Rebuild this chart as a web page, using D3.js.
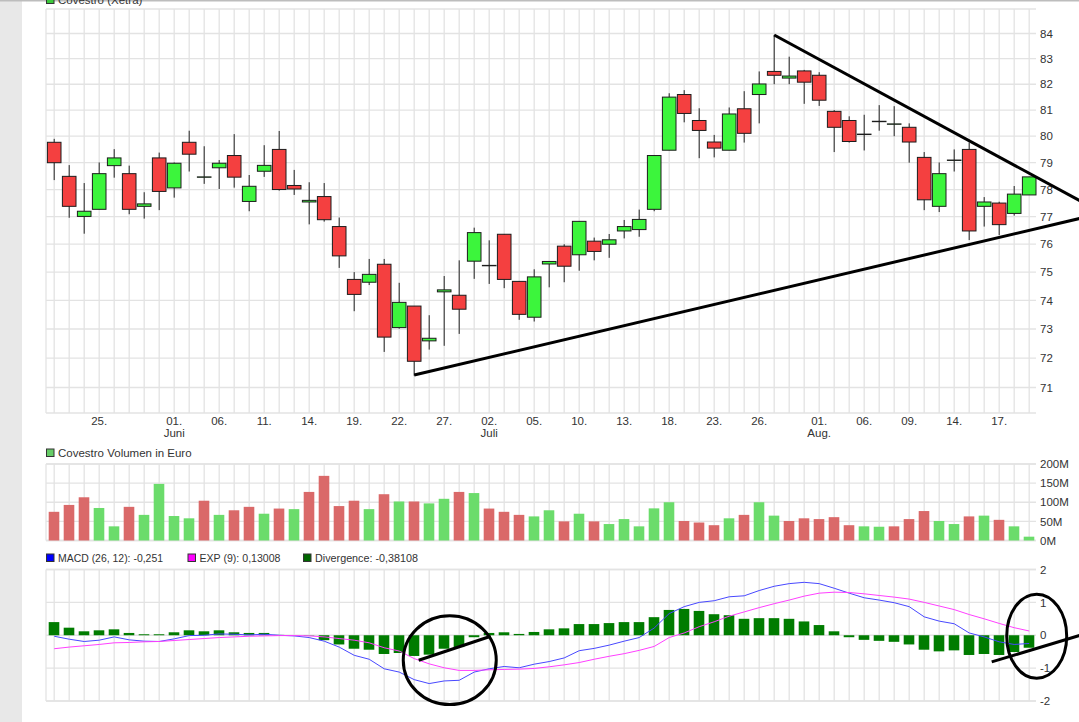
<!DOCTYPE html>
<html>
<head>
<meta charset="utf-8">
<script src="https://d3js.org/d3.v7.min.js"></script>
<style>
	html, body { margin: 0; padding: 0; background: #fff; overflow: hidden; }
	text { font-family: "Liberation Sans", Arial, sans-serif; font-size: 11.5px; fill: #333; }
</style>
</head>
<body>
<svg id="chart" width="1079" height="722"></svg>
<script>
// Data
//---------
var opens = [79.77,78.49,77.01,77.27,78.89,78.59,77.38,79.18,78.06,79.77,78.47,78.81,79.27,77.56,78.68,79.5,78.15,77.54,77.74,76.64,74.74,74.64,75.28,73.05,73.8,72.59,74.3,74.18,75.39,75.24,76.36,74.67,73.41,75.29,75.93,75.62,76.11,76.0,76.48,76.53,77.27,79.47,81.6,80.6,79.78,79.47,81.05,81.6,82.5,82.24,82.52,82.35,80.95,80.6,80.08,80.57,80.47,80.34,79.2,77.38,79.1,79.5,77.38,77.5,77.12,77.8];
var closes = [79.0,77.38,77.2,78.59,79.18,77.27,77.47,77.93,78.98,79.32,78.47,78.98,78.46,78.12,78.9,78.0,78.02,77.6,76.89,75.58,74.21,74.92,72.72,73.93,71.89,72.68,74.37,73.69,76.42,75.24,74.74,73.51,74.83,75.38,75.21,76.83,75.74,76.16,76.64,76.9,79.27,81.5,80.87,80.22,79.55,80.85,80.11,82.01,82.35,82.32,82.08,81.38,80.34,79.8,80.08,80.57,80.47,79.78,77.62,78.59,79.1,76.48,77.54,76.71,77.83,78.47];
var highs = [79.9,78.91,78.24,79.01,79.51,78.89,77.9,79.38,79.01,80.21,79.62,79.1,80.08,78.54,79.66,80.2,78.73,78.27,78.24,76.97,75.0,75.47,75.47,74.62,73.8,73.48,74.86,75.42,76.6,76.14,76.36,74.67,75.1,75.38,76.0,76.83,76.24,76.37,76.88,77.26,79.27,81.65,81.77,81.07,80.05,81.1,81.73,82.5,83.94,83.08,82.56,82.47,81.0,80.76,80.82,81.19,81.15,80.49,79.4,79.01,79.5,79.76,77.72,77.55,78.13,78.47];
var lows = [78.35,76.96,76.38,77.27,78.44,77.09,76.93,77.24,77.7,78.67,78.21,78.02,78.07,77.2,78.47,77.96,77.8,76.72,76.82,75.15,73.62,74.54,72.21,73.01,71.4,72.29,72.42,72.83,74.76,74.58,74.43,73.32,73.26,74.46,74.64,75.05,75.42,75.51,76.21,76.27,77.2,79.47,80.53,79.17,79.2,79.47,79.76,80.49,82.0,82.0,81.24,81.16,79.4,79.76,79.46,80.21,80.0,79.0,77.24,77.17,78.67,76.15,76.64,76.33,77.04,77.8];

var volumes = [75,93,113,85,37,88,67,148,64,58,104,67,79,88,70,83.5,82,127,169,90,104,82,121,102,102,97,109,127,124,83.5,75,67,63,79,50,70,50,43,56,37,84,100,51,47,40,58,67,100,65,51,58,56,61,40,37,36,37,56,77,51,43,63,65,54,37,10];
var volumeUp = [0,0,0,1,1,0,1,1,1,1,0,1,0,0,1,0,1,0,0,0,0,1,0,1,0,1,1,0,1,0,0,0,1,1,0,1,0,1,1,1,1,1,0,0,0,1,0,1,1,0,0,0,0,0,1,1,0,0,0,1,1,0,1,0,1,1];

var macd = [-0.03,-0.12,-0.19,-0.15,-0.05,-0.14,-0.18,-0.19,-0.11,-0.01,0,0.04,0.03,0.01,0.03,0,-0.02,-0.07,-0.18,-0.36,-0.61,-0.73,-1.02,-1.12,-1.35,-1.47,-1.39,-1.37,-1.12,-1.02,-0.95,-0.99,-0.88,-0.8,-0.69,-0.47,-0.4,-0.3,-0.18,-0.07,0.22,0.66,0.87,1.0,1.05,1.17,1.2,1.36,1.49,1.57,1.61,1.57,1.43,1.28,1.14,1.07,0.99,0.87,0.56,0.43,0.35,0.07,-0.05,-0.2,-0.28,-0.25];
var exp9 = [-0.41,-0.36,-0.32,-0.28,-0.23,-0.22,-0.2,-0.19,-0.16,-0.13,-0.1,-0.07,-0.05,-0.03,-0.02,-0.01,-0.01,-0.02,-0.05,-0.1,-0.15,-0.23,-0.38,-0.48,-0.71,-0.87,-0.99,-1.07,-1.07,-1.05,-1.04,-1.03,-1.01,-0.96,-0.9,-0.83,-0.73,-0.64,-0.56,-0.46,-0.34,-0.07,0.07,0.26,0.41,0.58,0.71,0.84,0.96,1.07,1.19,1.28,1.31,1.3,1.26,1.21,1.16,1.1,1.0,0.89,0.78,0.63,0.5,0.36,0.23,0.13];
var divergence = [0.4,0.23,0.12,0.15,0.18,0.07,0.03,0.03,0.09,0.15,0.12,0.15,0.09,0.07,0.07,0.01,0,-0.01,-0.15,-0.28,-0.41,-0.44,-0.57,-0.54,-0.63,-0.59,-0.41,-0.36,-0.06,0.07,0.09,0.04,0.1,0.18,0.21,0.34,0.34,0.37,0.4,0.4,0.55,0.77,0.8,0.74,0.64,0.61,0.5,0.52,0.52,0.5,0.42,0.31,0.12,-0.06,-0.14,-0.17,-0.2,-0.28,-0.44,-0.49,-0.46,-0.6,-0.57,-0.6,-0.51,-0.38];

var priceTicks = [71,72,73,74,75,76,77,78,79,80,81,82,83,84];
var volumeTicks = [0,50,100,150,200];
var macdTicks = [-2,-1,0,1,2];
var dayIndex = [3,8,11,14,17,20,23,26,29,32,35,38,41,44,47,51,54,57,60,63];
var dayLabels = ["25.","01.","06.","11.","14.","19.","22.","27.","02.","05.","10.","13.","18.","23.","26.","01.","06.","09.","14.","17."];
var monthIndex = [8,29,51];
var monthLabels = ["Juni","Juli","Aug."];

// hand drawn marks, in [day index, price] or [day index, macd]
var priceTrendUp = [[24,71.42],[68.4,76.94]];
var priceTrendDown = [[48,83.94],[68.4,77.58]];
var macdTrendLeft = [[24.3,-0.76],[29.1,-0.03]];
var macdTrendRight = [[62.5,-0.81],[68.4,0.0]];
var macdCircles = [[26.37,-0.76,3.1,1.35],[65.5,-0.03,2.0,1.28]];

// Scales
//---------
var left = 46, right = 1036, gridColor = "#e3e3e3";
var days = d3.range(opens.length);

var x = d3.scaleLinear().domain([0,65]).range([54.2,1029.2]);
var yPrice = d3.scaleLog().domain([71,84]).range([387.5,33.5]);
var yVolume = d3.scaleLinear().domain([0,200]).range([540.5,464]);
var yMacd = d3.scaleLinear().domain([-2,2]).range([701,569.5]);

var svg = d3.select("#chart");

// Page
//---------
svg.append("rect").attr("width",22).attr("height",722).attr("fill","#e8e8e8");
svg.append("rect").attr("width",1079).attr("height",1.5).attr("fill","#bdbdbd");

// Panels: grid and right hand axis
//---------
function panel(y,ticks,top,bottom,format) {
	var g = svg.append("g");
	g.selectAll(".h").data(ticks.concat([top,bottom])).enter().append("line")
		.attr("x1",left).attr("x2",right)
		.attr("y1",function(d,i) { return i<ticks.length ? y(d) : d; })
		.attr("y2",function(d,i) { return i<ticks.length ? y(d) : d; })
		.attr("stroke",gridColor).attr("stroke-width",1.3);
	g.selectAll(".v").data(days).enter().append("line")
		.attr("x1",function(d) { return x(d); })
		.attr("x2",function(d) { return x(d); })
		.attr("y1",top).attr("y2",bottom)
		.attr("stroke",gridColor).attr("stroke-width",1.3);
	g.append("line").attr("x1",left).attr("x2",left).attr("y1",top).attr("y2",bottom)
		.attr("stroke",gridColor).attr("stroke-width",1.3);

	var axis = svg.append("g")
		.attr("transform","translate(1036,0)")
		.call(d3.axisRight(y).tickValues(ticks).tickSize(0).tickPadding(4).tickFormat(format));
	axis.select(".domain").remove();
	axis.selectAll("text").attr("fill","#333");
}

panel(yPrice,priceTicks,9,413,function(d) { return d; });
panel(yVolume,volumeTicks,464,540.5,function(d) { return d+"M"; });
panel(yMacd,macdTicks,569.5,701,function(d) { return d; });

// Candles
//---------
svg.selectAll(".wick").data(days).enter().append("line")
	.attr("x1",function(i) { return x(i); })
	.attr("x2",function(i) { return x(i); })
	.attr("y1",function(i) { return yPrice(highs[i]); })
	.attr("y2",function(i) { return yPrice(lows[i]); })
	.attr("stroke","#222").attr("stroke-width",1);

// doji days have no body height, keep a sliver so the stroke still shows
svg.selectAll(".body").data(days).enter().append("rect")
	.attr("x",function(i) { return x(i)-6.8; })
	.attr("width",13.6)
	.attr("y",function(i) { return yPrice(Math.max(opens[i],closes[i])); })
	.attr("height",function(i) { return Math.max(Math.abs(yPrice(opens[i])-yPrice(closes[i])),0.4); })
	.attr("fill",function(i) { return closes[i]>=opens[i] ? "#3cf53c" : "#f44040"; })
	.attr("stroke","#1c1c1c").attr("stroke-width",1);

// X labels under the price panel
//---------
svg.selectAll(".day").data(dayLabels).enter().append("text")
	.attr("x",function(d,i) { return x(dayIndex[i]); })
	.attr("y",425).attr("text-anchor","middle")
	.text(function(d) { return d; });
svg.selectAll(".month").data(monthLabels).enter().append("text")
	.attr("x",function(d,i) { return x(monthIndex[i]); })
	.attr("y",437).attr("text-anchor","middle")
	.text(function(d) { return d; });

// Volume
//---------
svg.selectAll(".vol").data(days).enter().append("rect")
	.attr("x",function(i) { return x(i)-5.5; })
	.attr("width",10.6)
	.attr("y",function(i) { return yVolume(volumes[i]); })
	.attr("height",function(i) { return yVolume(0)-yVolume(volumes[i]); })
	.attr("fill",function(i) { return volumeUp[i] ? "#6bdc6b" : "#da6969"; });

// MACD
//---------
svg.selectAll(".div").data(days).enter().append("rect")
	.attr("x",function(i) { return x(i)-5.5; })
	.attr("width",10.6)
	.attr("y",function(i) { return yMacd(Math.max(divergence[i],0)); })
	.attr("height",function(i) { return Math.abs(yMacd(divergence[i])-yMacd(0)); })
	.attr("fill","#007c00");

var macdLine = d3.line().x(function(d,i) { return x(i); }).y(function(d) { return yMacd(d); });
svg.append("path").attr("d",macdLine(macd)).attr("fill","none").attr("stroke","#4848ff").attr("stroke-width",1);
svg.append("path").attr("d",macdLine(exp9)).attr("fill","none").attr("stroke","#ff40ff").attr("stroke-width",1);

// Legends
//---------
function legend(px,py,color,label,fit) {
	svg.append("rect").attr("x",px+0.5).attr("y",py-8).attr("width",7.5).attr("height",7.5)
		.attr("fill",color).attr("stroke","#333").attr("stroke-width",1);
	var t = svg.append("text").attr("x",px+12).attr("y",py).text(label);
	//-- the picture squeezes these ones a bit
	if (fit) {
		t.attr("textLength",fit).attr("lengthAdjust","spacingAndGlyphs");
	}
}
legend(46,4,"#3cc83c","Covestro (Xetra)");
legend(46,457,"#66cc66","Covestro Volumen in Euro");
legend(46,562,"#0000ff","MACD (26, 12): -0,251",105);
legend(187.5,562,"#ff00ff","EXP (9): 0,13008",81);
legend(303,562,"#006600","Divergence: -0,38108",103);

// Hand drawn trend lines and circles
//---------
function trend(points,y) {
	svg.append("line")
		.attr("x1",x(points[0][0])).attr("y1",y(points[0][1]))
		.attr("x2",x(points[1][0])).attr("y2",y(points[1][1]))
		.attr("stroke","#000").attr("stroke-width",3);
}
trend(priceTrendUp,yPrice);
trend(priceTrendDown,yPrice);
trend(macdTrendLeft,yMacd);
trend(macdTrendRight,yMacd);

svg.selectAll(".circle").data(macdCircles).enter().append("ellipse")
	.attr("cx",function(d) { return x(d[0]); })
	.attr("cy",function(d) { return yMacd(d[1]); })
	.attr("rx",function(d) { return x(d[2])-x(0); })
	.attr("ry",function(d) { return yMacd(0)-yMacd(d[3]); })
	.attr("fill","none").attr("stroke","#000").attr("stroke-width",3);
</script>
</body>
</html>
